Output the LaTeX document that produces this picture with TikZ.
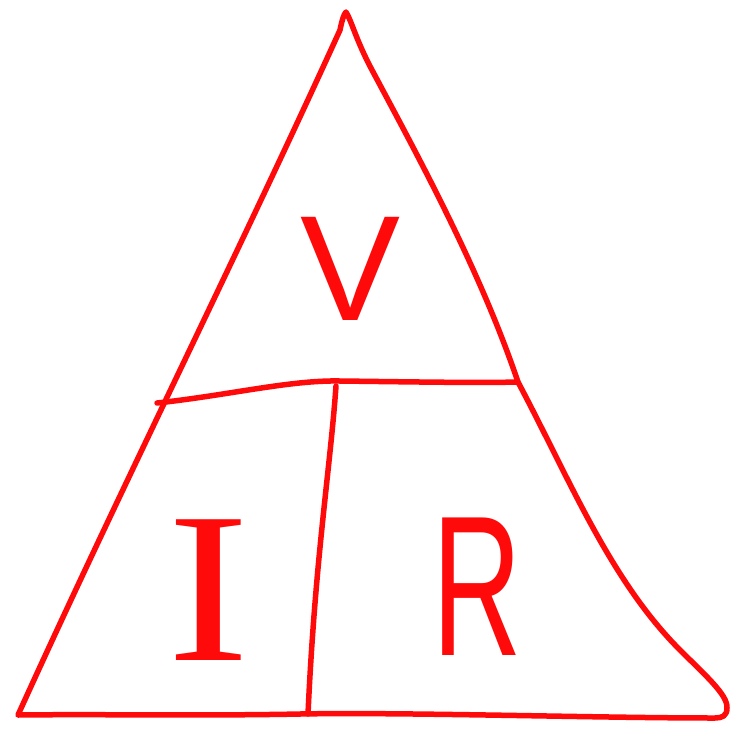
\documentclass[tikz,border=0pt]{standalone}
\usepackage{fontspec}
\setmainfont{Liberation Sans}
\newfontfamily\serifI{Liberation Serif}
\definecolor{pen}{RGB}{255,10,10}
\tikzset{
  stroke/.style={draw=pen, line width=5.5pt, line cap=round, line join=round},
  letter/.style={text=pen, anchor=base, inner sep=0pt, outer sep=0pt}
}
\begin{document}
\begin{tikzpicture}[x=1pt,y=-1pt]
\useasboundingbox[fill=white] (0,0) rectangle (729,731);
% triangle outline
\draw[stroke] (340,30) .. controls (342,20) and (344,14) .. (346,12)
  .. controls (352,22) and (356,40) .. (372,70)
  .. controls (420,160) and (480,270) .. (518,382)
  .. controls (570,480) and (610,580) .. (680,650)
  .. controls (705,675) and (728,695) .. (727,708)
  .. controls (727,716) and (722,718) .. (715,718)
  .. controls (600,718) and (400,712) .. (300,714)
  .. controls (200,716) and (100,714) .. (18,715)
  .. controls (120,490) and (240,250) .. (340,30);
% horizontal divider
\coordinate (hl) at (157,403);
\coordinate (hr) at (518,382);
\draw[stroke] (hl) .. controls (230,395) and (290,380) .. (340,381)
  .. controls (420,382) and (480,383) .. (hr);
% vertical divider
\coordinate (vt) at (336,386);
\coordinate (vb) at (308,714);
\draw[stroke] (vt) .. controls (330,470) and (315,560) .. (vb);
% letters
\node[letter, font=\fontsize{150}{150}\selectfont] (V) at (351,320) {V};
\node[letter, font=\serifI\fontsize{215}{215}\selectfont, xscale=1.15, transform shape] (I) at (209,660) {I};
\node[letter, font=\fontsize{200}{200}\selectfont, xscale=0.62, transform shape] (R) at (477,655) {R};
\end{tikzpicture}
\end{document}
